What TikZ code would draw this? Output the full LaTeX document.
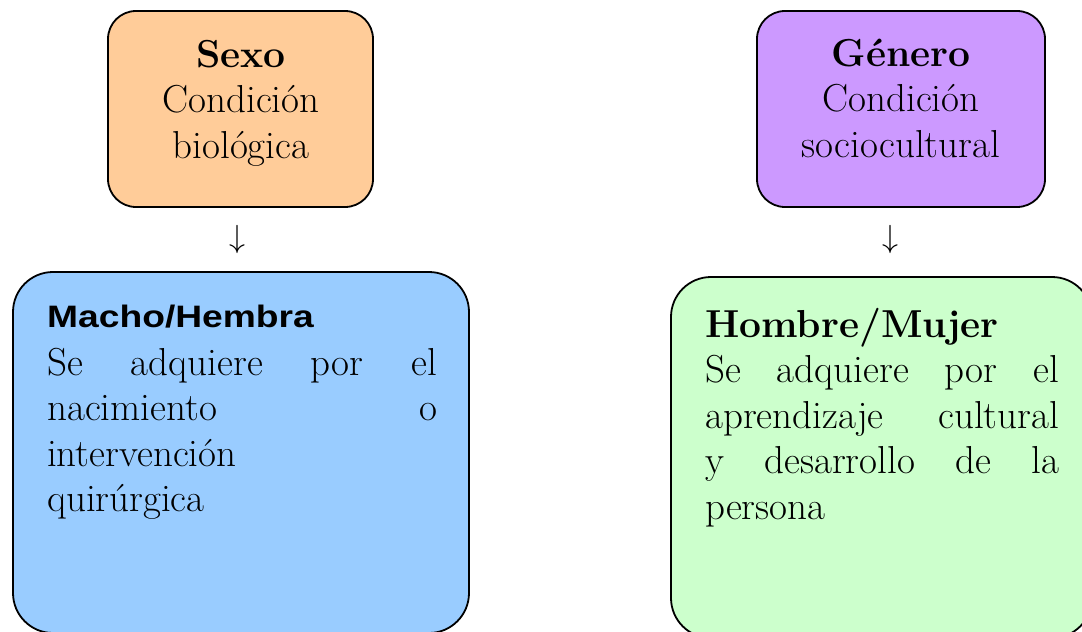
\RequirePackage{fix-cm}
\documentclass[tikz,border=0pt]{standalone}
\usepackage{fontspec}
\usepackage{tikz}
\newfontfamily\headsans[FakeStretch=1.2]{Liberation Sans}
\definecolor{sexofill}{HTML}{FFCC99}
\definecolor{generofill}{HTML}{CC99FF}
\definecolor{machofill}{HTML}{99CCFF}
\definecolor{hombrefill}{HTML}{CCFFCC}
\tolerance=10000
\hyphenpenalty=10000
\tikzset{
  caja/.style={draw, line width=1.8pt, rounded corners=#1, inner sep=0pt},
  texto/.style={inner sep=0pt, font=\fontsize{39}{45.5}\selectfont},
  flecha/.style={inner sep=0pt, font=\fontsize{32}{38}\selectfont}
}

\begin{document}
\begin{tikzpicture}[x=1pt,y=-1pt]

\useasboundingbox (0,0) rectangle (1082,632);
\clip (0,0) rectangle (1082,632);

\node[caja=28, fill=sexofill, minimum width=265, minimum height=196] (sexo) at (240.5,109) {};
\node[caja=28, fill=generofill, minimum width=288, minimum height=196] (genero) at (901,109) {};
\node[caja=40, fill=machofill, minimum width=456, minimum height=361] (macho) at (241,452.5) {};
\node[caja=40, fill=hombrefill, minimum width=421, minimum height=361] (hombre) at (881.5,457.5) {};

\node[texto, align=center, anchor=base] (sexotexto) at (241,158) {\textbf{Sexo}\\Condición\\biológica};
\node[texto, align=center, anchor=base] (generotexto) at (901,157) {\textbf{Género}\\Condición\\sociocultural};

\node[flecha] (sexoflecha) at (237,239) {$\downarrow$};
\node[flecha] (generoflecha) at (890,239) {$\downarrow$};

\node[texto, text width=390, align=justify, anchor=base west] (machotexto) at (47,327)
  {{\headsans\bfseries\fontsize{31}{45.5}\selectfont Macho/Hembra}\\[2.5pt]
   Se adquiere por el\linebreak nacimiento o\linebreak intervención\newline quirúrgica};
\node[texto, text width=354, align=justify, anchor=base west] (hombretexto) at (705,337)
  {\textbf{Hombre/Mujer}\\
   Se adquiere por el\linebreak aprendizaje cultural\linebreak y desarrollo de la\linebreak persona};

\end{tikzpicture}
\end{document}
